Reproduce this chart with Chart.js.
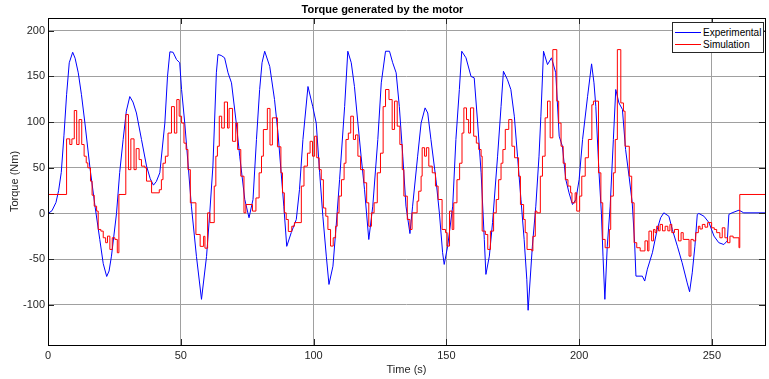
<!DOCTYPE html>
<html>
<head>
<meta charset="utf-8">
<script src="https://cdn.jsdelivr.net/npm/chart.js@4"></script>
<style>
  html, body { margin: 0; padding: 0; background: #fff; }
  #wrap { position: relative; width: 769px; height: 379px; }
  #legend { position: absolute; left: 672px; top: 22px; width: 90px; height: 29px;
    border: 1px solid #262626; background: #fff; font: 10px "Liberation Sans", Arial, sans-serif; color: #000; }
  .row { position: absolute; left: 2px; height: 12px; line-height: 12px; white-space: nowrap; }
  .sw { display: inline-block; width: 26px; height: 0; vertical-align: middle; margin-right: 2px; position: relative; top: -1px; }
</style>
</head>
<body>
<div id="wrap">
  <canvas id="c" width="769" height="379"></canvas>
  <div id="legend">
    <div class="row" style="top:4px"><span class="sw" style="border-top:1px solid #0000ff"></span>Experimental</div>
    <div class="row" style="top:16px"><span class="sw" style="border-top:1px solid #ff0000"></span>Simulation</div>
  </div>
</div>
<script>
// ---- Data ----
const titleText = "Torque generated by the motor";
const xLabel = "Time (s)";
const yLabel = "Torque (Nm)";
const seriesNames = ["Experimental", "Simulation"];
const xTicks = [0, 50, 100, 150, 200, 250];
const yTicks = [-100, -50, 0, 50, 100, 150, 200];

// Experimental (blue): time samples and torque values
const expT = [0,1.5,3,4,5,6,7,8,9.3,10.2,11.4,12.6,13.9,15.8,17.7,19.5,20.8,22.1,23,23.9,25.8,27,28.3,29.5,30.8,32,33.3,35.2,37.1,38.5,39.7,40.8,42.1,44,45,45.9,47.1,48.4,49.6,50.3,51.5,52.8,54,55.9,57.8,59.7,60.9,62.1,63.4,64,65.2,66.5,67.8,69.1,70.9,72.2,74.1,75.7,77.2,78.5,79.7,80.6,81.6,83.5,85.3,86.6,87.8,88.8,89.9,91.6,93.5,94.7,96,97.9,99.7,101,102.3,103.5,104.8,105.8,107.3,108.5,109.8,111.7,112.9,114.2,115.4,116.7,117.9,119.2,120.8,122.3,124.2,125.5,127.1,128.6,129.8,131.1,132.3,133.6,134.8,136.3,137.3,139.2,140.5,142,143,144.2,146.1,147.4,148.6,149.2,150.5,152.4,153.6,154.9,155.8,157.4,159.3,160.5,161.8,163.1,164.3,164.9,166.2,167.4,169.3,170.6,171.5,173,174.3,175.6,176.8,178.1,179.3,180.3,180.8,182.4,183.7,184.9,185.6,186.6,188.1,189.6,191.2,192.5,193.7,195,196.2,197.5,198.8,200,201.3,203.2,204.7,205.6,206.3,207.5,208.4,209,209.7,210.6,211.7,212.9,213.8,215,216.3,217.5,218.8,220,220.9,221.4,223.8,224.7,225.7,227.6,229.4,230.7,231.9,233.8,235.1,237,238.8,240.7,241.6,242.6,243.6,244.5,245.1,247,248.9,250.8,252.6,254.5,255.8,256.4,257.6,260.2,262,270];
const expV = [0,3,12,25,45,85,130,165,176.5,170,154,130,99,50,8,-28.5,-55,-69,-63,-46.7,0,45,81,112,128,122,110,81,52,38,31,35,44.5,99,150,177,176.5,168.5,165,135.7,99,52,8,-47,-94,-47,0,52,154,174,173,170.4,154,143,99,62.7,15.3,-4.7,15.3,81,135.7,165,177.6,161,124.7,88.3,44.5,8,-36,-21,-6.6,26,81,139,117,99,44.5,-3,-46.7,-77.7,-57.7,-14,37,117,177.6,165,139,99,62.7,26,-28.5,8,81,143,177.6,177.6,165,154,117,62.7,8,-22,8,62.7,99,115.6,110,81,37,0,-43,-55.8,-35.8,8,81,135.7,177.6,170.4,150,148.5,99,44.5,-28.5,-66.7,-46.7,-10,62.7,117,155.7,146.6,135.7,106.5,62.7,15.3,-28.5,-72,-106,-35.8,8,62.7,106.5,177.6,163,170.4,154,84.6,73.6,37,22.6,9.8,15.3,37,81,128.3,163.8,143,117,44.5,0,-46.7,-94,-35.8,8,81,135.7,121,114,70,40.8,11.7,-32,-68.6,-68.6,-74,-61,-43,-17.5,-4.7,0.7,-3,-17.5,-35.8,-54,-76,-85.7,-65,-35.8,-1,0,-3,-10,-24.8,-32,-34,-30,-1,0.7,3.6,0.7,0.7];

// Simulation (red, zero-order hold): step start times and held values
const simT = [0,7,8.2,9,9.9,10.8,11.7,12.7,13.6,14.4,15,16,16.6,17.4,18.3,18.9,19.9,20.8,21.7,22.4,23.3,24.2,25.2,26.1,26.7,29.3,30.3,31.2,32.4,33.2,34.3,35.2,36.5,37.1,39,41.9,42.7,43.3,44.2,45.2,46.5,47.6,48.5,49.4,50.3,51.2,52,52.7,53.6,55.7,57.3,58.6,59.1,60.1,61,62.6,63.2,63.8,64.5,65.4,66.4,67.6,68.2,69.5,70.7,71.4,72.6,73.8,74.5,77,78.3,79.5,80.4,81.1,82.6,83.6,84.5,86.4,87.7,88.3,89,89.7,90.5,91.8,92.8,95.4,96.4,97.7,98.7,99.6,100.4,101.2,102.1,102.9,103.7,104.6,105.4,106.4,107.4,108.3,108.9,109.6,110.5,111.5,112.2,113.1,114,115,115.8,116.7,117.7,119,120,120.8,121.8,122.8,124,125.2,126.2,127.1,128.4,129.6,130.5,131.5,132.5,133.4,134,135.3,136.3,137.1,139,139.6,140.5,140.9,141.8,142.5,143.4,144.7,145.9,146.9,148.4,149.7,150.3,151.2,152.2,152.8,154,155,155.9,156.6,157.6,158.4,159.1,160.3,161.3,162.2,163.1,163.5,164.7,165.6,166.6,167.8,168.8,169.7,170.6,171.3,172.2,173.5,174.7,175.7,177.2,177.9,179.1,179.7,180.4,182.2,182.6,183.5,184.1,185.4,186.2,187.2,188.1,189.1,190.1,191.6,192.3,193.2,194,194.8,195.8,196.8,197.3,198.5,199.1,200.2,201,202.3,203.5,204.8,205.4,207.3,208.2,208.9,209.8,211.4,211.9,212.9,213.6,214.4,215.7,216.7,217.3,218.9,219.8,220.7,221.7,223,224.8,225.8,226.3,227.3,228,228.6,229.2,229.9,230.5,231.4,232.4,233.4,234.2,234.9,235.9,237.4,238.4,239.2,241.4,242.1,243,243.9,244.9,245.5,246.4,247.4,248.4,249.9,250.9,251.8,253,253.9,254.9,255.9,256.8,258,260.2,260.5,270];
const simV = [20.8,81.7,75.5,81.7,112.7,75.5,102.8,75.5,62.7,55.4,50,35.4,20,8,2.6,-17.5,-19.3,-26.6,-32,-24.8,-39.4,-26.6,-28.4,-43,20.8,108.3,48,81.7,48,71,59,51.8,50,35.4,22.6,26,37,55,62.7,88,117,88,124.7,106.5,99,77,70,48,11.7,-23,-36,-25,-38,0.7,-10,30,62.7,73.6,106.5,93.5,122,93.5,115,79,99,70,40.8,0.7,9.8,2.6,17,44.5,62.7,91.9,115,75,104.7,73,44.5,22.6,0.7,-6.6,-19.7,-14,-10,30,51.8,66,79,62.7,84.6,61,48,37,6,-3,-17.5,-35.7,-26.6,-14,0.7,19,37,55,81,88,106.5,81,86,62.7,48,33.6,11.7,-14,0.7,11.7,44.5,66,117,135.7,124.7,92,123,95.6,75.5,48,19,-6.6,-17.5,0.7,13.5,24.4,40.8,72,62.7,72,51.8,44.5,30,15.3,-17.5,-21,-35.7,2.6,-17.5,11.7,37,55,88,115.6,102.8,88,115.6,84.6,77,70,62.7,-19.3,-23,-39.4,-19.3,0.7,15.3,37,55,70,92,102.8,73.6,61,40.8,9.8,-6.6,-21,-39.4,-41,-25,2.6,0.7,40.8,62.7,104.7,123,82.8,179.4,123,99,73.6,55,37,30,22.6,11.7,22.6,2.6,19,40.8,61,81,119,123,44.5,11.7,-28.4,-37.5,-17.5,19,44.5,81,179.4,121,112,73.6,40.8,11.7,-32,-37.5,-41,-30,-41,-19.3,-30,-17.5,-21,-14,-19,-12,-19,-14,-19,-12,-21,-17.5,-30,-21,-28.4,-46.7,-28.4,-30,-21,-14,-17,-12,-15,-10,-15.7,-17.5,-21,-26.6,-15.7,-26.6,-32,-24.8,-26.6,-37.5,20.8,20.8];

// ---- Chart ----
const FONT = "'Liberation Sans', Arial, sans-serif";
const TXT = '#262626';
const GRID = 'rgb(160,160,160)';

const toPts = (T, V) => T.map((t, i) => ({ x: t, y: V[i] }));
const keepTicks = list => axis => { axis.ticks = list.map(v => ({ value: v })); };

const framePlugin = {
  id: 'frame',
  afterDatasetsDraw(chart) {
    const { ctx, chartArea: a, scales } = chart;
    ctx.save();
    ctx.strokeStyle = TXT;
    ctx.lineWidth = 1;
    const L = 6;
    ctx.beginPath();
    scales.x.ticks.forEach(t => {
      const px = Math.round(scales.x.getPixelForValue(t.value)) + 0.5;
      ctx.moveTo(px, a.bottom); ctx.lineTo(px, a.bottom - L);
      ctx.moveTo(px, a.top); ctx.lineTo(px, a.top + L);
    });
    scales.y.ticks.forEach(t => {
      const py = Math.round(scales.y.getPixelForValue(t.value)) + 0.5;
      ctx.moveTo(a.left, py); ctx.lineTo(a.left + L, py);
      ctx.moveTo(a.right, py); ctx.lineTo(a.right - L, py);
    });
    ctx.stroke();
    ctx.strokeStyle = '#000';
    ctx.strokeRect(Math.round(a.left) + 0.5, Math.round(a.top) + 0.5,
      Math.round(a.right - a.left), Math.round(a.bottom - a.top));
    ctx.restore();
  }
};

new Chart(document.getElementById('c'), {
  type: 'line',
  data: {
    datasets: [
      { label: seriesNames[0], data: toPts(expT, expV), borderColor: '#0000ff', borderWidth: 1,
        pointRadius: 0, tension: 0, fill: false, order: 1 },
      { label: seriesNames[1], data: toPts(simT, simV), borderColor: '#ff0000', borderWidth: 1,
        pointRadius: 0, stepped: 'before', tension: 0, fill: false, order: 0 }
    ]
  },
  options: {
    responsive: false,
    animation: false,
    events: [],
    layout: { padding: { left: 0, right: 4, top: 0, bottom: 0 } },
    plugins: {
      legend: { display: false },
      tooltip: { enabled: false },
      title: {
        display: true, text: titleText, color: '#000',
        font: { family: FONT, size: 11, weight: 'bold', lineHeight: 1.2 },
        padding: { top: 3, bottom: 1.8 }
      }
    },
    scales: {
      x: {
        type: 'linear', min: 0, max: 270,
        afterBuildTicks: keepTicks(xTicks),
        afterFit: s => { s.height = 34; },
        grid: { color: GRID, drawTicks: false, lineWidth: 1 },
        border: { display: false },
        ticks: { color: TXT, font: { family: FONT, size: 11 }, padding: 4, maxRotation: 0 },
        title: { display: true, text: xLabel, color: TXT, font: { family: FONT, size: 11 },
          padding: { top: 0, bottom: 2.4 } }
      },
      y: {
        type: 'linear', min: -144, max: 214,
        afterBuildTicks: keepTicks(yTicks),
        afterFit: s => { s.width = 48; },
        grid: { color: GRID, drawTicks: false, lineWidth: 1 },
        border: { display: false },
        ticks: { color: TXT, font: { family: FONT, size: 11 }, padding: 3 },
        title: { display: true, text: yLabel, color: TXT, font: { family: FONT, size: 11 },
          padding: { top: 8, bottom: 0 } }
      }
    }
  },
  plugins: [framePlugin]
});
</script>
</body>
</html>
